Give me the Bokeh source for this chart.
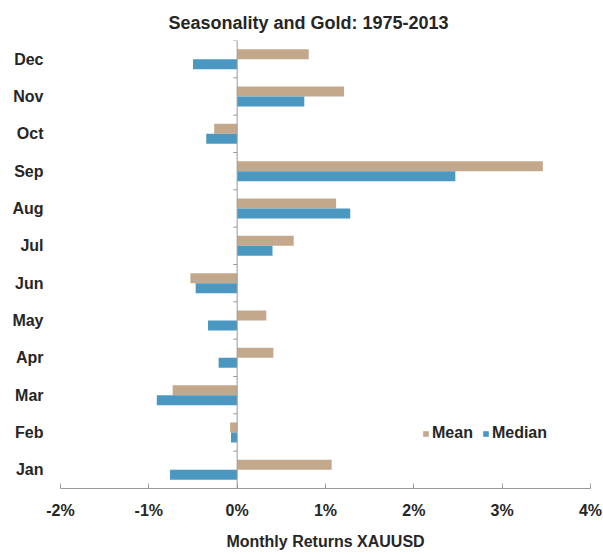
from bokeh.plotting import figure
from bokeh.models import (FactorRange, Range1d, Span, Legend, LegendItem,
                          PrintfTickFormatter, FixedTicker, ColumnDataSource)
from bokeh.transform import dodge
from bokeh.embed import file_html
from bokeh.resources import INLINE

# ---- data, percent monthly returns ----
months = ["Jan", "Feb", "Mar", "Apr", "May", "Jun",
          "Jul", "Aug", "Sep", "Oct", "Nov", "Dec"]
mean_ret = [1.07, -0.08, -0.73, 0.41, 0.33, -0.53, 0.64, 1.12, 3.46, -0.26, 1.21, 0.81]
median_ret = [-0.76, -0.07, -0.91, -0.21, -0.33, -0.47, 0.40, 1.28, 2.47, -0.35, 0.76, -0.50]
x_ticks = [-2, -1, 0, 1, 2, 3, 4]

FONT = "Liberation Sans"
TXT = "#262626"
AX = "#9a9a9a"
MEAN_C = "#C4A88B"
MED_C = "#4A98C2"

src = ColumnDataSource(dict(month=months, mean=mean_ret, median=median_ret))

p = figure(width=603, height=554,
           y_range=FactorRange(factors=months, range_padding=0, factor_padding=0),
           x_range=Range1d(x_ticks[0], x_ticks[-1]),
           output_backend="svg", toolbar_location=None,
           min_border_left=60, min_border_right=13,
           min_border_top=40, min_border_bottom=66)

p.outline_line_color = None
p.xgrid.grid_line_color = None
p.ygrid.grid_line_color = None

# title
p.title.text = "Seasonality and Gold: 1975-2013"
p.title.align = "left"
p.title.offset = 108
p.title.text_font = FONT
p.title.text_font_size = "18px"
p.title.text_font_style = "bold"
p.title.text_color = TXT
p.title.standoff = 16

BAR_H = 0.268
r_mean = p.hbar(y=dodge("month", 0.134, range=p.y_range), left=0, right="mean",
                height=BAR_H, source=src, fill_color=MEAN_C, line_color=None)
r_med = p.hbar(y=dodge("month", -0.134, range=p.y_range), left=0, right="median",
               height=BAR_H, source=src, fill_color=MED_C, line_color=None)

# zero line with category boundary ticks
p.add_layout(Span(location=0, dimension="height", line_color=AX, line_width=1))
p.segment(x0=0, x1=-0.045,
          y0=dodge("month", 0.5, range=p.y_range),
          y1=dodge("month", 0.5, range=p.y_range),
          source=src, line_color=AX, line_width=1)

# x axis
xa = p.xaxis[0]
xa.ticker = FixedTicker(ticks=x_ticks)
xa.formatter = PrintfTickFormatter(format="%d%%")
xa.axis_line_color = AX
xa.major_tick_line_color = AX
xa.major_tick_in = 5
xa.major_tick_out = 0
xa.minor_tick_line_color = None
xa.major_label_standoff = 13
xa.major_label_text_font = FONT
xa.major_label_text_font_size = "16px"
xa.major_label_text_font_style = "bold"
xa.major_label_text_color = TXT
xa.axis_label = "Monthly Returns XAUUSD"
xa.axis_label_text_font = FONT
xa.axis_label_text_font_size = "16px"
xa.axis_label_text_font_style = "bold"
xa.axis_label_text_color = TXT
xa.axis_label_standoff = 11

# y axis (category labels only)
ya = p.yaxis[0]
ya.axis_line_color = None
ya.major_tick_line_color = None
ya.minor_tick_line_color = None
ya.major_label_standoff = 11
ya.major_label_text_font = FONT
ya.major_label_text_font_size = "16px"
ya.major_label_text_font_style = "bold"
ya.major_label_text_color = TXT

legend = Legend(items=[LegendItem(label="Mean", renderers=[r_mean]),
                       LegendItem(label="Median", renderers=[r_med])],
                orientation="horizontal", location=(362, 46),
                border_line_color=None, background_fill_alpha=0,
                padding=0, margin=0, spacing=9, label_standoff=3,
                glyph_width=7, glyph_height=7, label_height=16,
                label_text_font=FONT, label_text_font_size="16px",
                label_text_font_style="bold", label_text_color=TXT)
p.add_layout(legend)

open("out.html", "w").write(file_html(p, INLINE))
